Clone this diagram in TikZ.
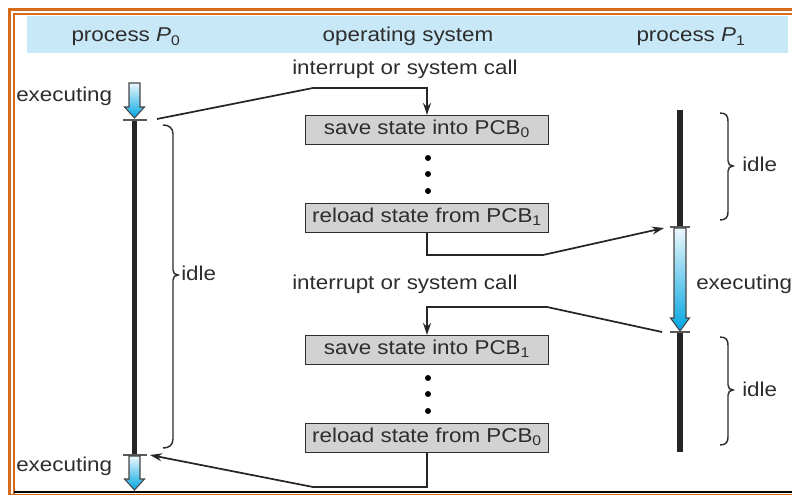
\documentclass[tikz,border=0pt]{standalone}
\usepackage{fontspec}
\setmainfont{Liberation Sans}[FakeStretch=1.12]
\usetikzlibrary{arrows.meta}

\definecolor{frameorange}{RGB}{212,108,28}
\definecolor{band}{RGB}{200,232,248}
\definecolor{ink}{RGB}{45,45,45}
\definecolor{boxfill}{RGB}{210,210,210}
\definecolor{arrtop}{RGB}{236,248,253}
\definecolor{arrbot}{RGB}{0,165,225}
\definecolor{arredge}{RGB}{70,70,70}

% hollow down arrow with a vertical gradient: x, top, head base, tip, half shaft, half head
\newcommand\fatarrow[6]{%
  \shade[top color=arrtop, bottom color=arrbot, draw=arredge, line width=0.8pt]
    (#1-#5,#2) -- (#1+#5,#2) -- (#1+#5,#3) -- (#1+#6,#3) -- (#1,#4)
    -- (#1-#6,#3) -- (#1-#5,#3) -- cycle;}

\begin{document}
\begin{tikzpicture}[x=0.75pt,y=-0.75pt,
  font=\fontsize{15}{18}\selectfont,
  lbl/.style={text=ink, inner sep=0pt, anchor=base west},
  hdr/.style={text=ink, inner sep=0pt, anchor=base},
  statebox/.style={draw=ink, fill=boxfill, line width=1.1pt,
    minimum width=182pt, minimum height=21.5pt, inner sep=0pt,
    text=ink, text height=1.6ex, text depth=0.3ex},
  conn/.style={draw=black!85, line width=1.3pt, -{Stealth[length=9pt,width=6pt]}},
  timeline/.style={line width=3.8pt, draw=black!85},
  tickmark/.style={line width=0.9pt, draw=black!65},
  bracket/.style={line width=1.1pt, draw=ink},
  dotmark/.style={circle, fill=black, inner sep=0pt, minimum size=4.5pt}]

\useasboundingbox (0,0) rectangle (792,495);

% frame
\draw[frameorange, line width=1.6pt] (9.5,495) -- (9.5,9.5) -- (792,9.5);
\draw[frameorange, line width=1.6pt] (14,495) -- (14,14) -- (792,14);
\draw[frameorange, line width=1.5pt] (9.5,494.5) -- (792,494.5);
\draw[black, line width=1.5pt] (14,492) -- (792,492);

% header band
\fill[band] (27,16) rectangle (788,53);
\node[hdr] (h0) at (126,42) {process \textit{P}\textsubscript{0}};
\node[hdr] (hos) at (408,42) {operating system};
\node[hdr] (h1) at (691,42) {process \textit{P}\textsubscript{1}};

% operating system column
\node[statebox] (b1) at (427,130) {save state into PCB\textsubscript{0}};
\node[statebox] (b2) at (427,218) {reload state from PCB\textsubscript{1}};
\node[statebox] (b3) at (427,350) {save state into PCB\textsubscript{1}};
\node[statebox] (b4) at (427,438) {reload state from PCB\textsubscript{0}};
\node[dotmark] (d1) at (428,158) {};
\node[dotmark] (d2) at (428,174) {};
\node[dotmark] (d3) at (428,191) {};
\node[dotmark] (d4) at (428,378) {};
\node[dotmark] (d5) at (428,394) {};
\node[dotmark] (d6) at (428,411) {};

\node[lbl] (int1) at (292,75) {interrupt or system call};
\node[lbl] (int2) at (292,290) {interrupt or system call};

% process P0
\draw[timeline] (134.5,120) -- (134.5,455);
\draw[tickmark] (123,120) -- (147,120);
\draw[tickmark] (123,455) -- (147,455);
\fatarrow{134.5}{83}{107}{118}{5.5}{10}
\fatarrow{134.5}{456}{479}{490}{5.5}{10}
\node[lbl] (ex0a) at (16,101.5) {executing};
\node[lbl] (ex0b) at (16,471) {executing};
\draw[bracket] (163,125) .. controls (169,125) and (173,128) .. (173,134)
  -- (173,270) .. controls (173,273) and (175,275) .. (178,275)
  .. controls (175,275) and (173,277) .. (173,280)
  -- (173,439) .. controls (173,445) and (169,448) .. (163,448);
\node[lbl] (idle0) at (181,281) {idle};

% process P1
\draw[timeline] (680,110) -- (680,227);
\draw[timeline] (680,332) -- (680,452);
\draw[tickmark] (670,227) -- (690,227);
\draw[tickmark] (670,332) -- (690,332);
\fatarrow{680}{228}{318}{331}{6}{9.5}
\node[lbl] (ex1) at (696,290) {executing};
\draw[bracket] (720,113) .. controls (726,113) and (728,116) .. (728,121)
  -- (728,161) .. controls (728,164) and (730,166) .. (733,166)
  .. controls (730,166) and (728,168) .. (728,171)
  -- (728,212) .. controls (728,217) and (726,220) .. (720,220);
\node[lbl] (idle1) at (742,172) {idle};
\draw[bracket] (720,337) .. controls (726,337) and (728,340) .. (728,345)
  -- (728,385) .. controls (728,388) and (730,390) .. (733,390)
  .. controls (730,390) and (728,392) .. (728,395)
  -- (728,437) .. controls (728,442) and (726,445) .. (720,445);
\node[lbl] (idle2) at (742,396) {idle};

% connector end points at the timeline ticks
\coordinate (s0) at (157,119);
\coordinate (e1) at (664,228);
\coordinate (s1) at (662,332);
\coordinate (e0) at (150,455);

% context switch connectors
\draw[conn] (s0) -- (313,88) -| (b1.north);
\draw[conn] (b2.south) |- (543,255) -- (e1);
\draw[conn] (s1) -- (547,307) -| (b3.north);
\draw[conn] (b4.south) |- (313,487) -- (e0);

\end{tikzpicture}
\end{document}
